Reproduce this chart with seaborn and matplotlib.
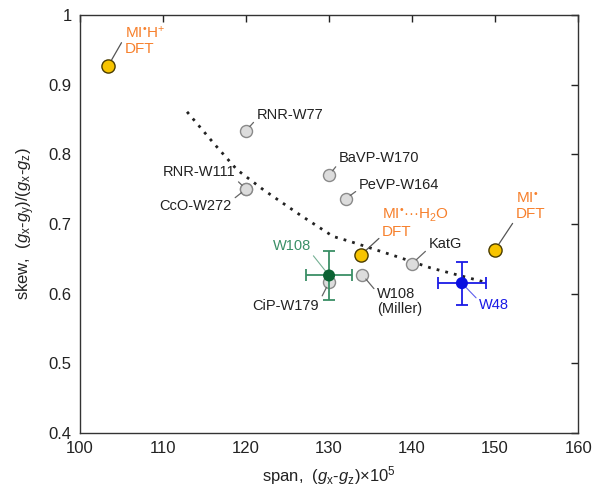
import numpy as np
import pandas as pd
import matplotlib
matplotlib.use('Agg')
import matplotlib.pyplot as plt
import seaborn as sns
from matplotlib.ticker import FormatStrFormatter

# literature Trp radicals (grey)
lit_names = ['RNR-W77', 'RNR-W111', 'CcO-W272', 'BaVP-W170', 'PeVP-W164',
             'KatG', 'W108\n(Miller)', 'CiP-W179']
lit_span = [120, 120, 120, 130, 132, 140, 134, 130]
lit_skew = [0.834, 0.750, 0.750, 0.770, 0.736, 0.643, 0.627, 0.616]

# DFT results (yellow)
dft_names = ['MI$^{\\mathrm{•}}$H$^{+}$\nDFT', 'MI$^{\\mathrm{•}}$···H$_2$O\nDFT',
             'MI$^{\\mathrm{•}}$\nDFT']
dft_span = [103.4, 133.8, 150.0]
dft_skew = [0.927, 0.655, 0.663]

# this work, with errors
exp_names = ['W108', 'W48']
exp_span = [130.0, 146.0]
exp_skew = [0.626, 0.615]
exp_span_err = [2.8, 2.9]
exp_skew_err = [0.035, 0.031]

# dotted trend curve
trend_span = [112.9, 116.1, 118.9, 122.1, 126.5, 130.5, 132.5, 138.2, 142.2, 148.6]
trend_skew = [0.861, 0.816, 0.778, 0.749, 0.713, 0.682, 0.675, 0.653, 0.637, 0.617]

sns.set_style('white')
plt.rcParams['font.family'] = ['Liberation Sans', 'DejaVu Sans']
plt.rcParams['mathtext.fontset'] = 'custom'
plt.rcParams['mathtext.rm'] = 'Liberation Sans'
plt.rcParams['mathtext.it'] = 'Liberation Sans:italic'

fig = plt.figure(figsize=(6.01, 5.01), dpi=100)
ax = fig.add_axes([0.133, 0.136, 0.829, 0.834])

trend = pd.DataFrame({'span': trend_span, 'skew': trend_skew})
sns.lineplot(data=trend, x='span', y='skew', sort=False, ax=ax,
             color='#222222', lw=2.0, linestyle=(0, (1, 2.2)), zorder=2)

lit = pd.DataFrame({'span': lit_span, 'skew': lit_skew})
sns.scatterplot(data=lit, x='span', y='skew', ax=ax, s=75,
                color='#dcdcdc', edgecolor='#8a8a8a', linewidth=1.0, zorder=3)

dft = pd.DataFrame({'span': dft_span, 'skew': dft_skew})
sns.scatterplot(data=dft, x='span', y='skew', ax=ax, s=90,
                color='#f7c400', edgecolor='#4a3c00', linewidth=1.0, zorder=4)

exp_colors = ['#3a8f66', '#1a1ae6']
exp_mark = ['#0b6233', '#0a10e0']
for i in range(2):
    ax.errorbar(exp_span[i], exp_skew[i], xerr=exp_span_err[i],
                yerr=exp_skew_err[i], fmt='none', ecolor=exp_colors[i],
                elinewidth=1.3, capsize=4, capthick=1.3, zorder=5)
exp = pd.DataFrame({'span': exp_span, 'skew': exp_skew, 'name': exp_names})
sns.scatterplot(data=exp, x='span', y='skew', hue='name',
                palette=dict(zip(exp_names, exp_mark)), ax=ax, s=75,
                edgecolor='none', legend=False, zorder=6)

# labels: (text pos, alignment, relpos of leader line)
lit_text = [((121.3, 0.857), 'left', (0, 0.2)),
            ((118.7, 0.775), 'right', (1, 0.0)),
            ((118.3, 0.726), 'right', (1, 0.9)),
            ((131.2, 0.794), 'left', (0, 0.2)),
            ((133.6, 0.756), 'left', (0, 0.2)),
            ((142.0, 0.671), 'left', (0, 0.2)),
            ((135.8, 0.589), 'left', (0, 0.8)),
            ((128.8, 0.582), 'right', (1, 0.8))]
for name, x, y, (pos, ha, rp) in zip(lit_names, lit_span, lit_skew, lit_text):
    ax.annotate(name, xy=(x, y), xytext=pos, ha=ha, va='center',
                fontsize=10.5, color='#222222', linespacing=1.1,
                arrowprops=dict(arrowstyle='-', color='#666666', lw=0.9,
                                relpos=rp, shrinkA=0, shrinkB=4))

dft_text = [((105.4, 0.964), (0, 0.6)),
            ((136.4, 0.702), (0, 0.1)),
            ((152.5, 0.725), (0, 0.1))]
for name, x, y, (pos, rp) in zip(dft_names, dft_span, dft_skew, dft_text):
    ax.annotate(name, xy=(x, y), xytext=pos, ha='left', va='center',
                fontsize=11, color='#f7802c', linespacing=1.1,
                arrowprops=dict(arrowstyle='-', color='#555555', lw=0.9,
                                relpos=rp, shrinkA=0, shrinkB=5))

exp_text = [((127.8, 0.669), 'right', (1, 0.0)),
            ((148.1, 0.583), 'left', (0, 0.8))]
for i, (pos, ha, rp) in enumerate(exp_text):
    ax.annotate(exp_names[i], xy=(exp_span[i], exp_skew[i]), xytext=pos,
                ha=ha, va='center', fontsize=10.5, color=exp_colors[i],
                arrowprops=dict(arrowstyle='-', color=exp_colors[i], lw=0.8,
                                alpha=0.7, relpos=rp, shrinkA=0, shrinkB=3))

ax.set_xlim(100, 160)
ax.set_ylim(0.4, 1.0)
ax.set_xticks(np.arange(100, 161, 10))
ax.set_yticks(np.arange(0.4, 1.01, 0.1))
ax.xaxis.set_major_formatter(FormatStrFormatter('%g'))
ax.yaxis.set_major_formatter(FormatStrFormatter('%g'))
ax.tick_params(direction='in', length=5, width=1, top=True, right=True,
               labelsize=12, colors='#222222', pad=6)
for s in ax.spines.values():
    s.set_color('#333333')
    s.set_linewidth(1.0)

ax.set_xlabel('span,  ($g_\\mathrm{x}$-$g_\\mathrm{z}$)×10$^{5}$', fontsize=12,
              color='#222222', labelpad=6)
ax.set_ylabel('skew,  ($g_\\mathrm{x}$-$g_\\mathrm{y}$)/($g_\\mathrm{x}$-$g_\\mathrm{z}$)',
              fontsize=12, color='#222222', labelpad=8)

fig.savefig('out.png', dpi=100)
